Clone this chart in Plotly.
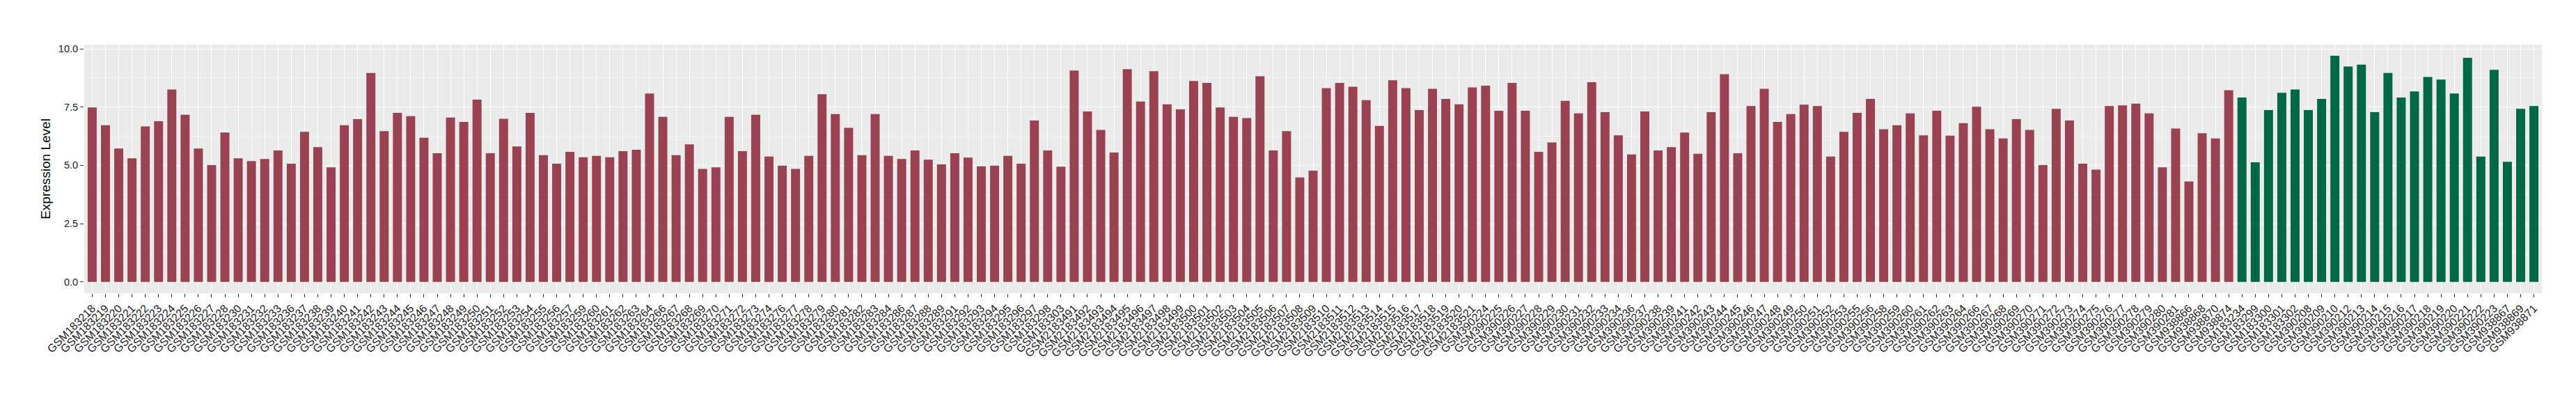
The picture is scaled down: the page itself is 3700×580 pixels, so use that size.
import plotly.graph_objects as go

# ---- data ----
samples_a = [
    "GSM183218", "GSM183219", "GSM183220", "GSM183221", "GSM183222", "GSM183223", "GSM183224", "GSM183225",
    "GSM183226", "GSM183227", "GSM183228", "GSM183230", "GSM183231", "GSM183232", "GSM183233", "GSM183236",
    "GSM183237", "GSM183238", "GSM183239", "GSM183240", "GSM183241", "GSM183242", "GSM183243", "GSM183244",
    "GSM183245", "GSM183246", "GSM183247", "GSM183248", "GSM183249", "GSM183250", "GSM183251", "GSM183252",
    "GSM183253", "GSM183254", "GSM183255", "GSM183256", "GSM183257", "GSM183259", "GSM183260", "GSM183261",
    "GSM183262", "GSM183263", "GSM183264", "GSM183266", "GSM183267", "GSM183268", "GSM183269", "GSM183270",
    "GSM183271", "GSM183272", "GSM183273", "GSM183274", "GSM183276", "GSM183277", "GSM183278", "GSM183279",
    "GSM183280", "GSM183281", "GSM183282", "GSM183283", "GSM183284", "GSM183286", "GSM183287", "GSM183288",
    "GSM183289", "GSM183291", "GSM183292", "GSM183293", "GSM183294", "GSM183295", "GSM183296", "GSM183297",
    "GSM183298", "GSM183303", "GSM2183491", "GSM2183492", "GSM2183493", "GSM2183494", "GSM2183495",
    "GSM2183496", "GSM2183497", "GSM2183498", "GSM2183499", "GSM2183500", "GSM2183501", "GSM2183502",
    "GSM2183503", "GSM2183504", "GSM2183505", "GSM2183506", "GSM2183507", "GSM2183508", "GSM2183509",
    "GSM2183510", "GSM2183511", "GSM2183512", "GSM2183513", "GSM2183514", "GSM2183515", "GSM2183516",
    "GSM2183517", "GSM2183518", "GSM2183519", "GSM2183520", "GSM2183521", "GSM390224", "GSM390225",
    "GSM390226", "GSM390227", "GSM390228", "GSM390229", "GSM390230", "GSM390231", "GSM390232", "GSM390233",
    "GSM390234", "GSM390236", "GSM390237", "GSM390238", "GSM390239", "GSM390241", "GSM390242", "GSM390243",
    "GSM390244", "GSM390245", "GSM390246", "GSM390247", "GSM390248", "GSM390249", "GSM390250", "GSM390251",
    "GSM390252", "GSM390253", "GSM390255", "GSM390256", "GSM390258", "GSM390259", "GSM390260", "GSM390261",
    "GSM390262", "GSM390263", "GSM390264", "GSM390266", "GSM390267", "GSM390268", "GSM390269", "GSM390270",
    "GSM390271", "GSM390272", "GSM390273", "GSM390274", "GSM390275", "GSM390276", "GSM390277", "GSM390278",
    "GSM390279", "GSM390280", "GSM390281", "GSM938866", "GSM938868", "GSM938870", "GSM938874",
]
values_a = [
    7.48, 6.72, 5.72, 5.30, 6.67, 6.89, 8.25, 7.17, 5.72, 5.01, 6.41, 5.30, 5.18, 5.27, 5.64,
    5.07, 6.44, 5.78, 4.91, 6.72, 6.98, 8.96, 6.47, 7.25, 7.11, 6.18, 5.52, 7.05, 6.86, 7.82, 5.52,
    7.00, 5.81, 7.25, 5.44, 5.07, 5.58, 5.35, 5.41, 5.35, 5.61, 5.67, 8.08, 7.08, 5.44, 5.90, 4.85,
    4.91, 7.08, 5.61, 7.17, 5.38, 4.99, 4.85, 5.41, 8.05, 7.20, 6.61, 5.44, 7.20, 5.41, 5.27,
    5.64, 5.24, 5.04, 5.52, 5.33, 4.96, 4.99, 5.41, 5.07, 6.92, 5.64, 4.94, 9.07, 7.31, 6.52, 5.55,
    9.13, 7.74, 9.04, 7.62, 7.40, 8.62, 8.54, 7.48, 7.08, 7.03, 8.82, 5.64, 6.47, 4.48, 4.77, 8.31,
    8.54, 8.37, 7.80, 6.69, 8.65, 8.31, 7.37, 8.28, 7.85, 7.62, 8.34, 8.42, 7.34, 8.54, 7.34, 5.58,
    5.98, 7.77, 7.23, 8.57, 7.28, 6.29, 5.47, 7.31, 5.64, 5.78, 6.41, 5.50, 7.28, 8.91, 5.52,
    7.54, 8.28, 6.86, 7.20, 7.60, 7.54, 5.38, 6.44, 7.25, 7.85, 6.55, 6.72, 7.23, 6.29, 7.34, 6.27,
    6.81, 7.51, 6.55, 6.15, 6.98, 6.52, 5.01, 7.42, 6.92, 5.07, 4.82, 7.54, 7.57, 7.65, 7.23, 4.91,
    6.58, 4.31, 6.38, 6.15, 8.22,
]
samples_b = [
    "GSM183234", "GSM183299", "GSM183300", "GSM183301", "GSM183302", "GSM390208", "GSM390209",
    "GSM390210", "GSM390212", "GSM390213", "GSM390214", "GSM390215", "GSM390216", "GSM390217",
    "GSM390218", "GSM390219", "GSM390220", "GSM390221", "GSM390222", "GSM390223", "GSM938867",
    "GSM938869", "GSM938871",
]
values_b = [
    7.91, 5.13, 7.37, 8.11, 8.25, 7.37, 7.85, 9.70, 9.24, 9.32, 7.28, 8.96, 7.91, 8.17,
    8.79, 8.68, 8.08, 9.61, 5.38, 9.10, 5.15, 7.42, 7.54,
]
y_ticks = [0.0, 2.5, 5.0, 7.5, 10.0]
y_title = "Expression Level"

# ---- style ----
COLOR_A = "#9A4251"
COLOR_B = "#006747"
FONT = "Liberation Sans, Arial, Helvetica, sans-serif"

all_samples = samples_a + samples_b

fig = go.Figure()
fig.add_trace(go.Bar(x=samples_a, y=values_a, marker=dict(color=COLOR_A, line=dict(width=0)),
                     width=0.68, showlegend=False))
fig.add_trace(go.Bar(x=samples_b, y=values_b, marker=dict(color=COLOR_B, line=dict(width=0)),
                     width=0.68, showlegend=False))

fig.update_layout(
    width=3700, height=580,
    margin=dict(l=113, r=57, t=56, b=167, autoexpand=False),
    paper_bgcolor="white",
    plot_bgcolor="#EBEBEB",
    barmode="overlay",
    font=dict(family=FONT, color="#333333"),
    xaxis=dict(
        type="category",
        categoryorder="array",
        categoryarray=all_samples,
        range=[-0.6, len(all_samples) - 0.4],
        tickmode="array",
        tickvals=all_samples,
        ticktext=all_samples,
        tickangle=-45,
        tickfont=dict(size=16, color="#1a1a1a", family=FONT),
        ticks="outside", ticklen=5, tickcolor="#333333", tickwidth=1,
        showgrid=True, gridcolor="white", gridwidth=1.4,
        zeroline=False, showline=False, automargin=False,
    ),
    yaxis=dict(
        range=[-0.487, 10.18],
        tickmode="array",
        tickvals=y_ticks,
        ticktext=[f"{v:.1f}" for v in y_ticks],
        tickfont=dict(size=14.5, color="#1a1a1a", family=FONT),
        ticks="outside", ticklen=5, tickcolor="#333333", tickwidth=1,
        showgrid=True, gridcolor="white", gridwidth=1.4,
        minor=dict(dtick=1.25, tick0=0, showgrid=True, gridcolor="#F5F5F5", gridwidth=0.8, ticks=""),
        zeroline=False, showline=False, automargin=False,
        title=dict(text=y_title, font=dict(size=19, color="black", family=FONT), standoff=6),
    ),
)

fig.write_html("out.html")
